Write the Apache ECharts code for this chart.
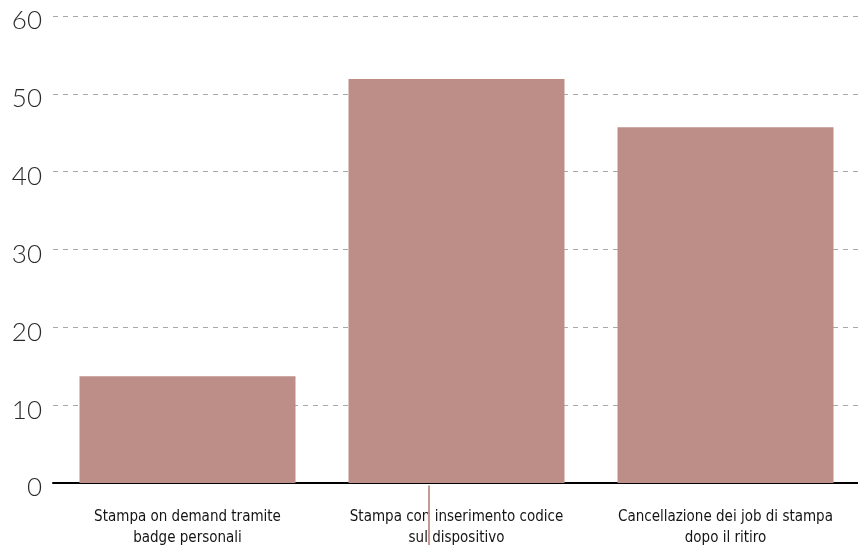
<!DOCTYPE html>
<html>
<head>
<meta charset="utf-8">
<style>
  html, body { margin: 0; padding: 0; background: #ffffff; }
  #chart { width: 858px; height: 545px; }
</style>
<script src="https://cdn.jsdelivr.net/npm/echarts@6/dist/echarts.min.js"></script>
</head>
<body>
<div id="chart"></div>
<script>
// Category names (two lines each) and the share of respondents per practice
const categories = [
  'Stampa on demand tramite\nbadge personali',
  'Stampa con inserimento codice\nsul dispositivo',
  'Cancellazione dei job di stampa\ndopo il ritiro'
];
const values = [13.7, 51.9, 45.7];
const yTicks = [0, 10, 20, 30, 40, 50, 60];

const BAR_COLOR = '#bc8e87';

const chart = echarts.init(document.getElementById('chart'), null, { renderer: 'canvas' });

chart.setOption({
  animation: false,
  backgroundColor: '#ffffff',
  grid: {
    left: 53, right: -2, top: 16, bottom: 62,
    containLabel: false,
    outerBoundsMode: 'none'
  },
  xAxis: {
    type: 'category',
    data: categories,
    axisLine: { show: true, lineStyle: { color: '#000000', width: 2 } },
    axisTick: { show: false },
    axisLabel: {
      color: '#141414',
      fontFamily: '"Liberation Sans Narrow", "DejaVu Sans Condensed", sans-serif',
      fontSize: 15,
      lineHeight: 21,
      margin: 24,
      interval: 0
    }
  },
  yAxis: {
    type: 'value',
    min: yTicks[0],
    max: yTicks[yTicks.length - 1],
    interval: 10,
    axisLine: { show: false },
    axisTick: { show: false },
    axisLabel: {
      color: '#2a2a2a',
      fontFamily: 'Lato, Inter, sans-serif',
      fontWeight: 300,
      fontSize: 26,
      margin: 11,
      // a short line box hanging below the tick puts each number slightly under its gridline
      verticalAlign: 'top',
      lineHeight: 10
    },
    splitLine: {
      show: true,
      lineStyle: { color: '#a8a8a8', width: 1, type: [5, 5] }
    }
  },
  series: [{
    type: 'bar',
    data: values,
    barCategoryGap: '19.7%',
    itemStyle: { color: BAR_COLOR },
    z: 3
  }],
  graphic: [{
    type: 'line',
    left: 'center',
    top: 483,
    shape: { x1: 0, y1: 0, x2: 0, y2: 62 },
    style: { stroke: '#c49a94', lineWidth: 2 },
    z: 10
  }]
});
</script>
</body>
</html>
